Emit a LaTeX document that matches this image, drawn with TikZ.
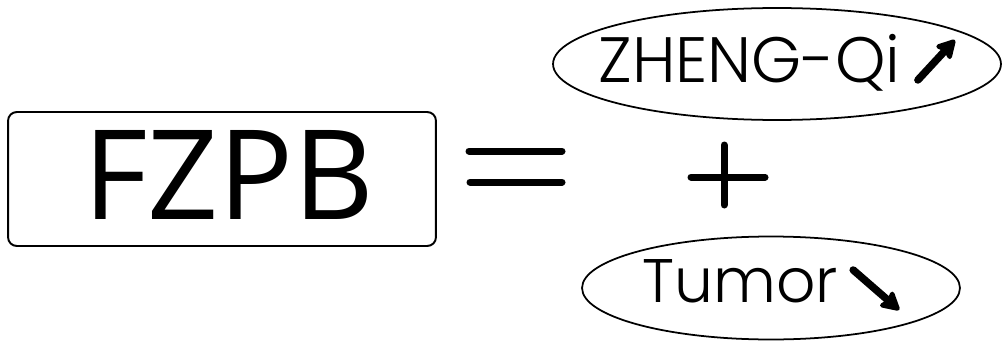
\documentclass[tikz,border=0pt]{standalone}
\usepackage{fontspec}
\setmainfont{Open Sans}
\newfontfamily\ovalfont{Poppins}[UprightFont={* Light}]
\usetikzlibrary{shapes.geometric, arrows.meta, positioning, calc}
\definecolor{inkcol}{RGB}{0, 0, 0}

\begin{document}
\begin{tikzpicture}[
        x=0.02cm, y=-0.02cm,
        >=Stealth,
        mainbox/.style={rectangle, rounded corners=5pt, draw=inkcol, line width=1.1pt, minimum width=8.56cm, minimum height=2.68cm},
        maintext/.style={inner sep=0pt, font=\fontsize{71}{80}\selectfont},
        oval/.style={ellipse, draw=inkcol, line width=1pt, inner sep=0pt},
        ovaltext/.style={inner sep=0pt, anchor=base west, font=\ovalfont\fontsize{36.5}{42}\selectfont},
        sign/.style={line width=0.14cm, line cap=round, color=inkcol},
        trend/.style={-{Stealth[length=0.44cm, width=0.48cm, inset=0.08cm, round]}, line width=0.15cm, line cap=round, color=inkcol}
    ]
    \useasboundingbox (0, 0) rectangle (1003, 341);

    %% --- Left side: the boxed term ---
    \node[mainbox] (fzpb) at (222, 179) {};
    \node[maintext] (fzpbtext) at (229, 175) {FZPB};

    %% --- Equals sign ---
    \draw[sign] (469, 151) -- (562, 151);
    \draw[sign] (470, 182) -- (562, 182);

    %% --- Plus sign ---
    \draw[sign] (724, 145) -- (724, 205);
    \draw[sign] (691, 177) -- (765, 177);

    %% --- Upper oval: ZHENG-Qi up ---
    \node[oval, minimum width=8.96cm, minimum height=2.24cm] (zhengqi) at (777, 64) {};
    \node[ovaltext] (zhengqitext) at (598, 83) {ZHENG-Qi};
    \draw[trend] ($(zhengqitext.base east)+(17, -3)$) -- ++(37, -40);

    %% --- Lower oval: Tumor down ---
    \node[oval, minimum width=7.56cm, minimum height=2.06cm] (tumor) at (771, 288) {};
    \node[ovaltext, font=\ovalfont\fontsize{35}{40}\selectfont] (tumortext) at (642, 302) {Tumor};
    \draw[trend] ($(tumortext.base east)+(15, -32)$) -- ++(46, 40);

\end{tikzpicture}
\end{document}
